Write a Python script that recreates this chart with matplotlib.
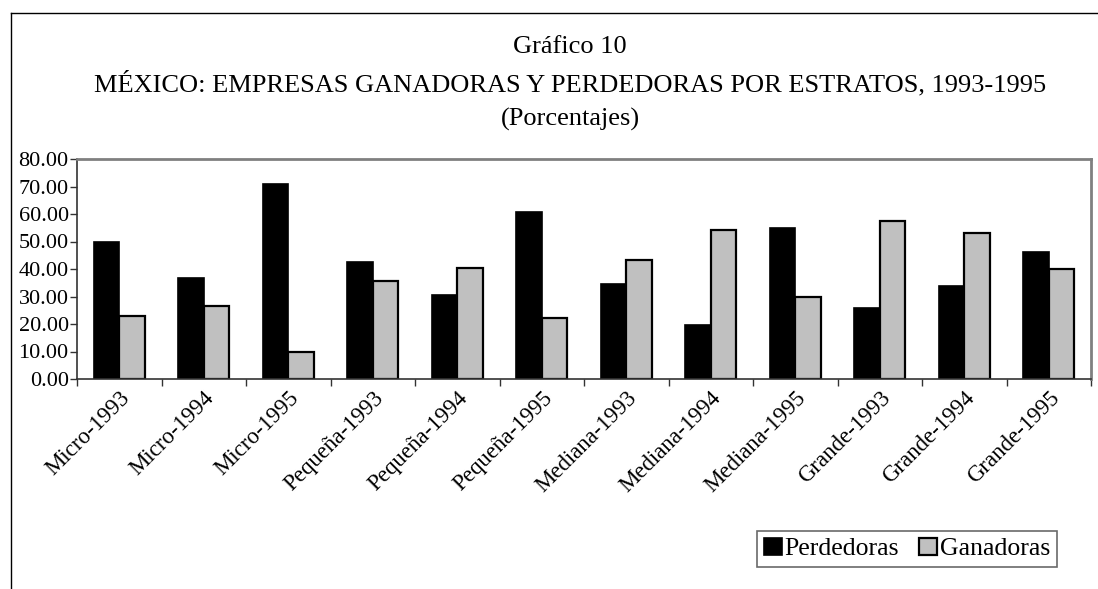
import numpy as np
import matplotlib
matplotlib.use('Agg')
import matplotlib.pyplot as plt
from matplotlib.lines import Line2D

plt.rcParams['font.family'] = ['Liberation Serif', 'DejaVu Serif']

categorias = ['Micro-1993', 'Micro-1994', 'Micro-1995',
              'Pequeña-1993', 'Pequeña-1994', 'Pequeña-1995',
              'Mediana-1993', 'Mediana-1994', 'Mediana-1995',
              'Grande-1993', 'Grande-1994', 'Grande-1995']
perdedoras = [50.0, 36.6, 71.0, 42.7, 30.7, 60.7, 34.6, 19.6, 55.0, 25.7, 34.0, 46.3]
ganadoras = [22.9, 26.6, 10.0, 35.7, 40.3, 22.3, 43.4, 54.3, 29.7, 57.6, 53.0, 40.0]
y_ticks = [0, 10, 20, 30, 40, 50, 60, 70, 80]

W, H = 1098, 589
fig = plt.figure(figsize=(W / 100, H / 100), dpi=100)

# outer frame (left and top edges visible)
fig.add_artist(Line2D([11 / W, 11 / W], [0, 1 - 13 / H], color='black', lw=1, transform=fig.transFigure))
fig.add_artist(Line2D([11 / W, 1], [1 - 13 / H, 1 - 13 / H], color='black', lw=1, transform=fig.transFigure))

ax = fig.add_axes([77 / W, (H - 379) / H, 1014 / W, 220 / H])

x = np.arange(len(categorias))
w = 0.3
ax.bar(x - w / 2, perdedoras, w, color='black', edgecolor='black', lw=1.2, label='Perdedoras')
ax.bar(x + w / 2, ganadoras, w, color='#c0c0c0', edgecolor='black', lw=1.6, label='Ganadoras')

ax.set_xlim(-0.5, len(categorias) - 0.5)
ax.set_ylim(0, 80)
ax.set_yticks(y_ticks)
ax.set_yticklabels(['%.2f' % v for v in y_ticks], fontsize=16)

ax.set_xticks(np.arange(len(categorias) + 1) - 0.5)
ax.set_xticklabels([])
ax.set_xticks(x, minor=True)
ax.set_xticklabels(categorias, minor=True, rotation=45, ha='right', rotation_mode='anchor', fontsize=16.5)
ax.tick_params(axis='x', which='major', direction='out', length=5, width=1, color='#333333')
ax.tick_params(axis='x', which='minor', length=0, pad=6)
ax.tick_params(axis='y', direction='out', length=5, width=1, color='#333333', pad=1)

for s in ['top', 'right']:
    ax.spines[s].set_color('#808080')
    ax.spines[s].set_linewidth(2)
for s in ['left', 'bottom']:
    ax.spines[s].set_color('#333333')
    ax.spines[s].set_linewidth(1.2)

fig.text(570 / W, 1 - 47 / H, 'Gráfico 10', ha='center', va='center', fontsize=19)
fig.text(570 / W, 1 - 84 / H, 'MÉXICO: EMPRESAS GANADORAS Y PERDEDORAS POR ESTRATOS, 1993-1995',
         ha='center', va='center', fontsize=19)
fig.text(570 / W, 1 - 119 / H, '(Porcentajes)', ha='center', va='center', fontsize=19)

leg = fig.legend(loc='center', bbox_to_anchor=(907 / W, 1 - 549 / H), ncol=2, fontsize=18.5,
                 frameon=True, fancybox=False, edgecolor='#444444', handlelength=0.7, handleheight=0.7,
                 handletextpad=0.1, columnspacing=0.8, borderpad=0.25, borderaxespad=0)
leg.get_frame().set_linewidth(1.2)

fig.savefig('out.png', dpi=100)
